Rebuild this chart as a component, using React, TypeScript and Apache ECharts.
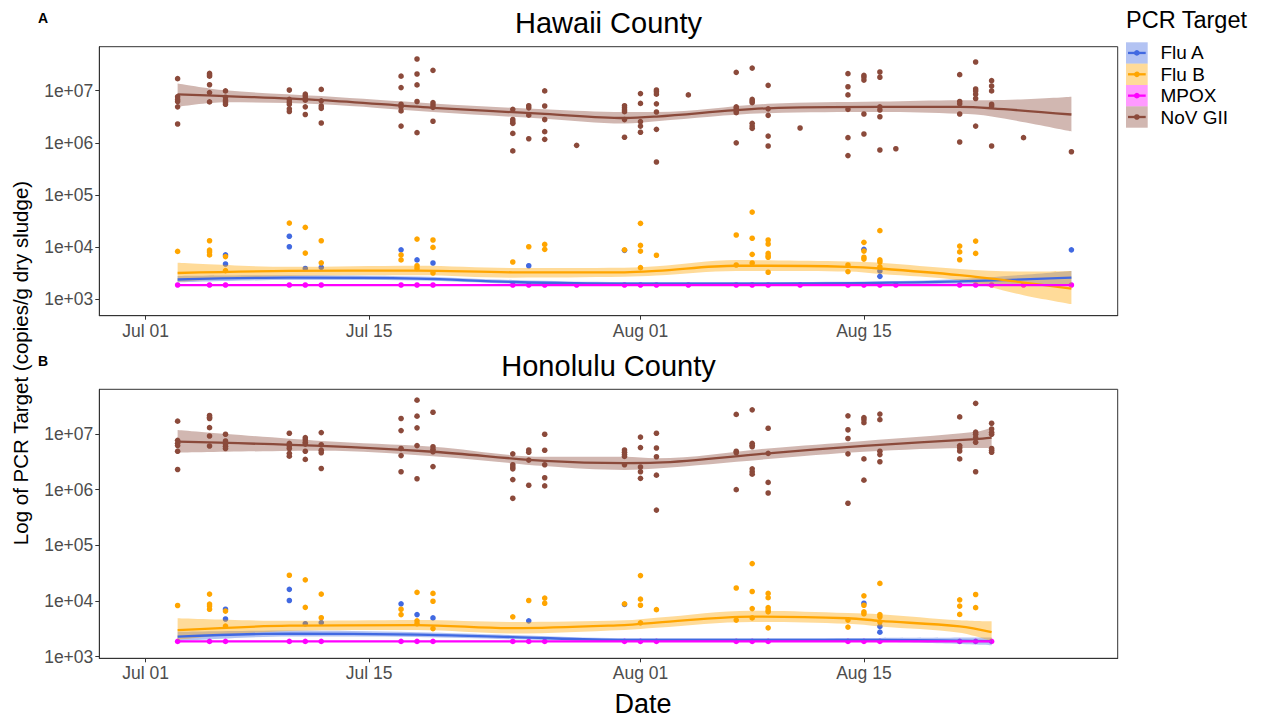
import React, { useEffect, useRef } from 'react';
import * as echarts from 'echarts';

type Pt = [string, number];
type Fit = [string, number, number, number]; // date, fit, lower, upper

const targets = ['Flu A', 'Flu B', 'MPOX', 'NoV GII'];
const targetColors = ['#4169E1', '#FFA500', '#FF00FF', '#8B4A3B'];
const bandColors = ['rgba(65,105,225,0.4)', 'rgba(255,165,0,0.4)', 'rgba(255,0,255,0.4)', 'rgba(139,74,59,0.4)'];
const panelTitles = ['Hawaii County', 'Honolulu County'];
const panelTags = ['A', 'B'];
const yTickExponents = [3, 4, 5, 6, 7];
const xTickDates = ['2024-07-01', '2024-07-15', '2024-08-01', '2024-08-15'];
const monthNames = ['Jan', 'Feb', 'Mar', 'Apr', 'May', 'Jun', 'Jul', 'Aug', 'Sep', 'Oct', 'Nov', 'Dec'];

// ---------- points ----------
const fluAShared: Pt[] = [
  ['2024-07-06', 7.1e3], ['2024-07-06', 4.75e3],
  ['2024-07-10', 1.62e4], ['2024-07-10', 1.02e4],
  ['2024-07-11', 3.9e3], ['2024-07-12', 4.1e3],
  ['2024-07-17', 8.9e3], ['2024-07-18', 5.7e3], ['2024-07-19', 4.97e3],
  ['2024-07-25', 4.4e3], ['2024-07-31', 8.7e3],
  ['2024-08-15', 9.1e3], ['2024-08-16', 3.5e3], ['2024-08-16', 2.76e3],
];
const fluAHawaiiOnly: Pt[] = [['2024-08-28', 8.9e3]];

const fluBShared: Pt[] = [
  ['2024-07-03', 8.3e3],
  ['2024-07-05', 1.33e4], ['2024-07-05', 8.8e3], ['2024-07-05', 8.1e3], ['2024-07-05', 7.1e3],
  ['2024-07-06', 6.6e3], ['2024-07-06', 3.55e3],
  ['2024-07-10', 2.9e4],
  ['2024-07-11', 2.4e4], ['2024-07-11', 7.7e3],
  ['2024-07-12', 1.33e4], ['2024-07-12', 5.0e3],
  ['2024-07-17', 7.1e3], ['2024-07-17', 5.7e3],
  ['2024-07-18', 1.43e4], ['2024-07-18', 4.4e3], ['2024-07-18', 3.9e3],
  ['2024-07-19', 1.37e4], ['2024-07-19', 9.9e3], ['2024-07-19', 3.2e3],
  ['2024-07-24', 5.2e3],
  ['2024-07-25', 1.02e4],
  ['2024-07-26', 1.13e4], ['2024-07-26', 9.1e3],
  ['2024-07-31', 8.9e3],
  ['2024-08-01', 2.86e4], ['2024-08-01', 1.08e4], ['2024-08-01', 8.4e3], ['2024-08-01', 4.05e3],
  ['2024-08-02', 7.0e3],
  ['2024-08-07', 1.71e4], ['2024-08-07', 4.55e3],
  ['2024-08-08', 4.7e4], ['2024-08-08', 1.48e4], ['2024-08-08', 7.3e3], ['2024-08-08', 4.97e3],
  ['2024-08-09', 1.37e4], ['2024-08-09', 1.15e4], ['2024-08-09', 7.6e3], ['2024-08-09', 6.8e3], ['2024-08-09', 6.4e3], ['2024-08-09', 3.3e3],
  ['2024-08-14', 4.55e3], ['2024-08-14', 3.4e3],
  ['2024-08-15', 1.24e4], ['2024-08-15', 8.4e3], ['2024-08-15', 6.4e3], ['2024-08-15', 5.9e3],
  ['2024-08-16', 2.07e4], ['2024-08-16', 5.7e3], ['2024-08-16', 5.2e3], ['2024-08-16', 4.2e3],
  ['2024-08-21', 1.05e4], ['2024-08-21', 8.1e3], ['2024-08-21', 5.75e3],
  ['2024-08-22', 1.31e4], ['2024-08-22', 7.6e3],
];

const mpoxShared: Pt[] = [
  ['2024-07-03', 1880], ['2024-07-05', 1880], ['2024-07-06', 1880], ['2024-07-10', 1880],
  ['2024-07-11', 1880], ['2024-07-12', 1880], ['2024-07-17', 1880], ['2024-07-18', 1880],
  ['2024-07-19', 1880], ['2024-07-24', 1880], ['2024-07-25', 1880], ['2024-07-26', 1880],
  ['2024-07-31', 1880], ['2024-08-01', 1880], ['2024-08-02', 1880], ['2024-08-07', 1880],
  ['2024-08-08', 1880], ['2024-08-09', 1880], ['2024-08-14', 1880], ['2024-08-15', 1880],
  ['2024-08-16', 1880], ['2024-08-21', 1880], ['2024-08-22', 1880], ['2024-08-23', 1880],
];
const mpoxHawaiiOnly: Pt[] = [
  ['2024-07-28', 1880], ['2024-08-04', 1880], ['2024-08-11', 1880],
  ['2024-08-17', 1880], ['2024-08-25', 1880], ['2024-08-28', 1880],
];

const novShared: Pt[] = [
  ['2024-07-03', 1.7e7], ['2024-07-03', 7.7e6], ['2024-07-03', 6.8e6], ['2024-07-03', 6.2e6], ['2024-07-03', 4.9e6], ['2024-07-03', 2.3e6],
  ['2024-07-05', 2.15e7], ['2024-07-05', 2.0e7], ['2024-07-05', 1.9e7], ['2024-07-05', 1.3e7], ['2024-07-05', 9.2e6], ['2024-07-05', 6.1e6],
  ['2024-07-06', 9.9e6], ['2024-07-06', 7.5e6], ['2024-07-06', 6.6e6], ['2024-07-06', 6.0e6], ['2024-07-06', 5.5e6],
  ['2024-07-10', 1.03e7], ['2024-07-10', 6.8e6], ['2024-07-10', 6.1e6], ['2024-07-10', 5.5e6], ['2024-07-10', 4.5e6], ['2024-07-10', 4.0e6],
  ['2024-07-11', 8.6e6], ['2024-07-11', 7.9e6], ['2024-07-11', 7.1e6], ['2024-07-11', 6.6e6], ['2024-07-11', 4.9e6], ['2024-07-11', 3.5e6],
  ['2024-07-12', 1.06e7], ['2024-07-12', 6.4e6], ['2024-07-12', 5.1e6], ['2024-07-12', 4.6e6], ['2024-07-12', 2.4e6],
  ['2024-07-17', 1.9e7], ['2024-07-17', 1.15e7], ['2024-07-17', 5.5e6], ['2024-07-17', 4.1e6], ['2024-07-17', 2.1e6],
  ['2024-07-18', 4.05e7], ['2024-07-18', 2.09e7], ['2024-07-18', 1.29e7], ['2024-07-18', 6.2e6], ['2024-07-18', 1.57e6],
  ['2024-07-19', 2.46e7], ['2024-07-19', 5.9e6], ['2024-07-19', 5.3e6], ['2024-07-19', 4.8e6], ['2024-07-19', 2.6e6],
  ['2024-07-24', 4.4e6], ['2024-07-24', 2.8e6], ['2024-07-24', 2.55e6], ['2024-07-24', 2.37e6], ['2024-07-24', 1.52e6], ['2024-07-24', 7.0e5],
  ['2024-07-25', 5.15e6], ['2024-07-25', 4.7e6], ['2024-07-25', 3.4e6], ['2024-07-25', 1.2e6],
  ['2024-07-26', 9.9e6], ['2024-07-26', 5.1e6], ['2024-07-26', 2.8e6], ['2024-07-26', 1.64e6], ['2024-07-26', 1.17e6],
  ['2024-07-31', 5.15e6], ['2024-07-31', 4.7e6], ['2024-07-31', 4.27e6], ['2024-07-31', 3.96e6], ['2024-07-31', 2.8e6],
  ['2024-08-01', 8.8e6], ['2024-08-01', 5.7e6], ['2024-08-01', 2.55e6], ['2024-08-01', 2.1e6], ['2024-08-01', 1.6e6],
  ['2024-08-02', 1.03e7], ['2024-08-02', 5.6e6], ['2024-08-02', 3.9e6], ['2024-08-02', 1.82e6], ['2024-08-02', 4.3e5],
  ['2024-08-07', 2.25e7], ['2024-08-07', 4.9e6], ['2024-08-07', 4.6e6], ['2024-08-07', 1.0e6],
  ['2024-08-08', 2.72e7], ['2024-08-08', 6.8e6], ['2024-08-08', 6.3e6], ['2024-08-08', 5.9e6], ['2024-08-08', 2.37e6], ['2024-08-08', 2.1e6], ['2024-08-08', 1.9e6],
  ['2024-08-09', 1.27e7], ['2024-08-09', 4.5e6], ['2024-08-09', 1.35e6], ['2024-08-09', 8.7e5],
  ['2024-08-14', 2.12e7], ['2024-08-14', 1.19e7], ['2024-08-14', 8.3e6], ['2024-08-14', 4.4e6], ['2024-08-14', 5.7e5],
  ['2024-08-15', 1.97e7], ['2024-08-15', 1.81e7], ['2024-08-15', 1.6e7], ['2024-08-15', 3.57e6], ['2024-08-15', 1.48e6],
  ['2024-08-16', 2.28e7], ['2024-08-16', 1.81e7], ['2024-08-16', 4.9e6], ['2024-08-16', 4.27e6], ['2024-08-16', 3.17e6],
  ['2024-08-21', 2.03e7], ['2024-08-21', 6.2e6], ['2024-08-21', 5.6e6], ['2024-08-21', 3.57e6],
  ['2024-08-22', 3.55e7], ['2024-08-22', 1.08e7], ['2024-08-22', 9.9e6], ['2024-08-22', 8.6e6], ['2024-08-22', 7.1e6], ['2024-08-22', 2.1e6],
  ['2024-08-23', 1.56e7], ['2024-08-23', 1.23e7], ['2024-08-23', 9.9e6], ['2024-08-23', 5.5e6], ['2024-08-23', 5.1e6],
];
const novHawaiiOnly: Pt[] = [
  ['2024-07-17', 4.9e6], ['2024-07-28', 8.97e5], ['2024-07-31', 1.28e6],
  ['2024-08-02', 9.6e6], ['2024-08-02', 8.6e6], ['2024-08-04', 8.3e6],
  ['2024-08-07', 4.1e6], ['2024-08-07', 3.8e6], ['2024-08-09', 3.37e6],
  ['2024-08-11', 1.93e6], ['2024-08-14', 1.26e6], ['2024-08-16', 7.3e5],
  ['2024-08-17', 7.7e5], ['2024-08-21', 1.04e6], ['2024-08-23', 8.7e5],
  ['2024-08-25', 1.26e6], ['2024-08-28', 6.76e5],
];
const novHonoluluOnly: Pt[] = [
  ['2024-08-21', 4.95e6], ['2024-08-23', 1.07e7], ['2024-08-23', 4.7e6],
];

// ---------- smoothed fits (fit, lower, upper) ----------
const fluAFitHawaii: Fit[] = [
  ['2024-07-03', 2.4e3, 2.1e3, 2.8e3], ['2024-07-10', 2.6e3, 2.35e3, 2.9e3],
  ['2024-07-18', 2.5e3, 2.3e3, 2.75e3], ['2024-07-24', 2.15e3, 2.0e3, 2.35e3],
  ['2024-07-31', 2.0e3, 1.87e3, 2.15e3], ['2024-08-08', 2.0e3, 1.87e3, 2.15e3],
  ['2024-08-15', 2.05e3, 1.9e3, 2.2e3], ['2024-08-21', 2.2e3, 2.0e3, 2.45e3],
  ['2024-08-28', 2.6e3, 1.9e3, 3.5e3],
];
const fluBFitHawaii: Fit[] = [
  ['2024-07-03', 3.2e3, 2.17e3, 5.0e3], ['2024-07-10', 3.5e3, 2.8e3, 4.2e3],
  ['2024-07-18', 3.55e3, 2.9e3, 4.4e3], ['2024-07-24', 3.3e3, 2.6e3, 4.0e3],
  ['2024-07-31', 3.3e3, 2.7e3, 4.05e3], ['2024-08-02', 3.5e3, 2.85e3, 4.3e3],
  ['2024-08-07', 4.4e3, 3.5e3, 5.7e3], ['2024-08-09', 4.4e3, 3.5e3, 5.6e3],
  ['2024-08-14', 4.2e3, 3.4e3, 5.3e3], ['2024-08-16', 3.9e3, 3.05e3, 5.0e3],
  ['2024-08-21', 2.9e3, 2.3e3, 3.8e3], ['2024-08-25', 2.1e3, 1.2e3, 3.4e3],
  ['2024-08-28', 1.6e3, 8.1e2, 3.5e3],
];
const mpoxFitHawaii: Fit[] = [
  ['2024-07-03', 1880, 1840, 1920], ['2024-07-31', 1880, 1860, 1900], ['2024-08-28', 1880, 1840, 1920],
];
const novFitHawaii: Fit[] = [
  ['2024-07-03', 8.5e6, 4.9e6, 1.38e7], ['2024-07-06', 7.9e6, 6.0e6, 1.02e7],
  ['2024-07-12', 6.6e6, 5.5e6, 7.9e6], ['2024-07-19', 4.7e6, 3.9e6, 5.7e6],
  ['2024-07-26', 3.6e6, 2.9e6, 4.4e6], ['2024-07-31', 3.0e6, 2.35e6, 3.9e6],
  ['2024-08-02', 3.2e6, 2.6e6, 3.9e6], ['2024-08-09', 4.6e6, 3.7e6, 5.6e6],
  ['2024-08-16', 4.9e6, 3.9e6, 6.2e6], ['2024-08-21', 4.9e6, 3.6e6, 6.6e6],
  ['2024-08-23', 4.6e6, 3.2e6, 6.6e6], ['2024-08-28', 3.5e6, 1.66e6, 7.7e6],
];

const fluAFitHonolulu: Fit[] = [
  ['2024-07-03', 2.3e3, 1.9e3, 2.8e3], ['2024-07-10', 2.6e3, 2.3e3, 2.95e3],
  ['2024-07-18', 2.5e3, 2.25e3, 2.75e3], ['2024-07-24', 2.25e3, 2.05e3, 2.45e3],
  ['2024-07-31', 2.0e3, 1.85e3, 2.15e3], ['2024-08-09', 2.0e3, 1.85e3, 2.15e3],
  ['2024-08-16', 2.0e3, 1.83e3, 2.17e3], ['2024-08-23', 1.9e3, 1.6e3, 2.2e3],
];
const fluBFitHonolulu: Fit[] = [
  ['2024-07-03', 3.0e3, 2.0e3, 4.9e3], ['2024-07-10', 3.6e3, 2.9e3, 4.4e3],
  ['2024-07-18', 3.7e3, 3.0e3, 4.55e3], ['2024-07-24', 3.25e3, 2.6e3, 4.2e3],
  ['2024-07-31', 3.7e3, 3.0e3, 4.5e3], ['2024-08-02', 4.1e3, 3.3e3, 5.0e3],
  ['2024-08-08', 5.25e3, 4.2e3, 6.7e3], ['2024-08-14', 4.9e3, 3.9e3, 6.1e3],
  ['2024-08-16', 4.4e3, 3.5e3, 5.8e3], ['2024-08-21', 3.5e3, 2.7e3, 4.5e3],
  ['2024-08-23', 2.75e3, 1.9e3, 4.3e3],
];
const mpoxFitHonolulu: Fit[] = [
  ['2024-07-03', 1880, 1840, 1920], ['2024-07-31', 1880, 1860, 1900], ['2024-08-23', 1880, 1840, 1920],
];
const novFitHonolulu: Fit[] = [
  ['2024-07-03', 7.3e6, 4.6e6, 1.18e7], ['2024-07-12', 6.1e6, 5.0e6, 7.5e6],
  ['2024-07-19', 4.8e6, 4.0e6, 5.9e6], ['2024-07-26', 3.3e6, 2.66e6, 3.9e6],
  ['2024-07-31', 3.0e6, 2.26e6, 3.9e6], ['2024-08-02', 3.05e6, 2.4e6, 3.65e6],
  ['2024-08-09', 4.5e6, 3.55e6, 5.5e6], ['2024-08-15', 6.1e6, 4.8e6, 7.5e6],
  ['2024-08-22', 8.1e6, 5.6e6, 1.1e7], ['2024-08-23', 8.6e6, 5.5e6, 1.3e7],
];

// ---------- helpers ----------
const DAY = 86400000;
const ORIGIN = '2024-07-01';
const utc = (s: string) => {
  const [y, m, d] = s.split('-').map(Number);
  return Date.UTC(y, m - 1, d);
};
const dn = (s: string) => Math.round((utc(s) - utc(ORIGIN)) / DAY);
const lg = (v: number) => Math.log10(v);

const FONT = '"Liberation Sans", Arial, sans-serif';
const gridLeft = 99.3;
const gridWidth = 1018.4;
const gridHeight = 269;
const gridTops = [46.7, 389.3];
const yMins = [2.686, 2.971];
const yMaxs = [7.844, 7.803];
const xMinDays = -2.907;
const xMaxDays = 60.9;

function panelSeries(g: number, pts: Pt[][], fits: Fit[][]) {
  const out: any[] = [];
  pts.forEach((p, i) => {
    out.push({
      type: 'scatter', xAxisIndex: g, yAxisIndex: g, silent: true,
      symbol: 'circle', symbolSize: 5.6,
      itemStyle: { color: targetColors[i], opacity: 1 },
      data: p.map(([d, v]) => [utc(d), lg(v)]),
    });
  });
  fits.forEach((f, i) => {
    const stack = 'band' + g + '_' + i;
    out.push({
      type: 'line', xAxisIndex: g, yAxisIndex: g, silent: true, stack, smooth: 0.35,
      symbol: 'none', lineStyle: { width: 0, opacity: 0 },
      data: f.map((r) => [utc(r[0]), lg(r[2])]),
    });
    out.push({
      type: 'line', xAxisIndex: g, yAxisIndex: g, silent: true, stack, smooth: 0.35,
      symbol: 'none', lineStyle: { width: 0, opacity: 0 },
      areaStyle: { color: bandColors[i], opacity: 1 },
      data: f.map((r) => [utc(r[0]), lg(r[3]) - lg(r[2])]),
    });
    out.push({
      type: 'line', xAxisIndex: g, yAxisIndex: g, silent: true, smooth: 0.35,
      symbol: 'none', lineStyle: { width: 2.3, color: targetColors[i] },
      data: f.map((r) => [utc(r[0]), lg(r[1])]),
    });
  });
  return out;
}

function fmtDay(v: number) {
  const d = new Date(utc(ORIGIN) + Math.round(v) * DAY);
  const day = d.getUTCDate();
  return monthNames[d.getUTCMonth()] + ' ' + (day < 10 ? '0' + day : String(day));
}

function buildOption(): any {
  const hawaiiPts = [
    fluAShared.concat(fluAHawaiiOnly),
    fluBShared,
    mpoxShared.concat(mpoxHawaiiOnly),
    novShared.concat(novHawaiiOnly),
  ];
  const honoluluPts = [fluAShared, fluBShared, mpoxShared, novShared.concat(novHonoluluOnly)];
  const hawaiiFits = [fluAFitHawaii, fluBFitHawaii, mpoxFitHawaii, novFitHawaii];
  const honoluluFits = [fluAFitHonolulu, fluBFitHonolulu, mpoxFitHonolulu, novFitHonolulu];

  const grids = gridTops.map((top) => ({
    left: gridLeft, top, width: gridWidth, height: gridHeight,
    show: true, borderColor: '#333333', borderWidth: 1, backgroundColor: 'transparent',
  }));
  const xTicks = xTickDates.map(dn);
  // hidden time axes used by the series (indices 0,1)
  const timeAxes = [0, 1].map((g) => ({
    type: 'time', gridIndex: g, position: 'top', show: false,
    min: utc(ORIGIN) + xMinDays * DAY, max: utc(ORIGIN) + xMaxDays * DAY,
    splitLine: { show: false },
  }));
  // visible day-number axes carrying the tick labels (indices 2,3)
  const labelAxes = [0, 1].map((g) => ({
    type: 'value', gridIndex: g, position: 'bottom', min: xMinDays, max: xMaxDays,
    axisLine: { show: true, onZero: false, lineStyle: { color: '#333333', width: 1 } },
    axisTick: { show: true, length: 4, customValues: xTicks, lineStyle: { color: '#333333' } },
    axisLabel: {
      customValues: xTicks, formatter: (v: number) => fmtDay(v),
      fontSize: 17.5, color: '#4d4d4d', fontFamily: FONT, margin: 6,
    },
    splitLine: { show: false },
  }));
  const yAxes = [0, 1].map((g) => ({
    type: 'value', gridIndex: g, min: yMins[g], max: yMaxs[g],
    axisLine: { show: true, onZero: false, lineStyle: { color: '#333333', width: 1 } },
    axisTick: { show: true, length: 4, customValues: yTickExponents, lineStyle: { color: '#333333' } },
    axisLabel: {
      customValues: yTickExponents, formatter: (v: number) => '1e+0' + Math.round(v),
      fontSize: 17.5, color: '#4d4d4d', fontFamily: FONT, margin: 6,
    },
    splitLine: { show: false },
  }));

  const graphics: any[] = [];
  panelTitles.forEach((t, g) => {
    graphics.push({
      type: 'text', x: 608.5, y: gridTops[g] - 23.5,
      style: { text: t, fontSize: 29, fontFamily: FONT, fill: '#000', align: 'center', verticalAlign: 'middle' },
    });
    graphics.push({
      type: 'text', x: 43, y: gridTops[g] - 28.5,
      style: { text: panelTags[g], fontSize: 14, fontWeight: 'bold', fontFamily: FONT, fill: '#000', align: 'center', verticalAlign: 'middle' },
    });
  });
  graphics.push({
    type: 'text', x: 20, y: 363, rotation: Math.PI / 2,
    style: { text: 'Log of PCR Target (copies/g dry sludge)', fontSize: 20.5, fontFamily: FONT, fill: '#000', align: 'center', verticalAlign: 'middle' },
  });
  graphics.push({
    type: 'text', x: 643, y: 704,
    style: { text: 'Date', fontSize: 27, fontFamily: FONT, fill: '#000', align: 'center', verticalAlign: 'middle' },
  });
  graphics.push({
    type: 'text', x: 1126, y: 20,
    style: { text: 'PCR Target', fontSize: 23.5, fontFamily: FONT, fill: '#000', align: 'left', verticalAlign: 'middle' },
  });
  targets.forEach((t, i) => {
    const y0 = 42.3 + i * 21.35;
    const cy = y0 + 10.65;
    graphics.push({ type: 'rect', shape: { x: 1126, y: y0, width: 21.7, height: 21.35 }, style: { fill: bandColors[i] } });
    graphics.push({ type: 'line', shape: { x1: 1128, y1: cy, x2: 1145.7, y2: cy }, style: { stroke: targetColors[i], lineWidth: 2.3 } });
    graphics.push({ type: 'circle', shape: { cx: 1136.85, cy, r: 2.8 }, style: { fill: targetColors[i] } });
    graphics.push({
      type: 'text', x: 1160.5, y: cy,
      style: { text: t, fontSize: 19, fontFamily: FONT, fill: '#000', align: 'left', verticalAlign: 'middle' },
    });
  });

  return {
    animation: false,
    backgroundColor: '#ffffff',
    textStyle: { fontFamily: FONT },
    grid: grids,
    xAxis: [...timeAxes, ...labelAxes],
    yAxis: yAxes,
    series: [...panelSeries(0, hawaiiPts, hawaiiFits), ...panelSeries(1, honoluluPts, honoluluFits)],
    graphic: graphics,
  };
}

export default function App() {
  const ref = useRef<HTMLDivElement>(null);
  useEffect(() => {
    if (!ref.current) return;
    const chart = echarts.init(ref.current, undefined, { renderer: 'svg' });
    chart.setOption(buildOption());
    return () => chart.dispose();
  }, []);
  return (
    <div
      ref={ref}
      style={{ position: 'fixed', left: 0, top: 0, width: 1266, height: 719, background: '#ffffff' }}
    />
  );
}
